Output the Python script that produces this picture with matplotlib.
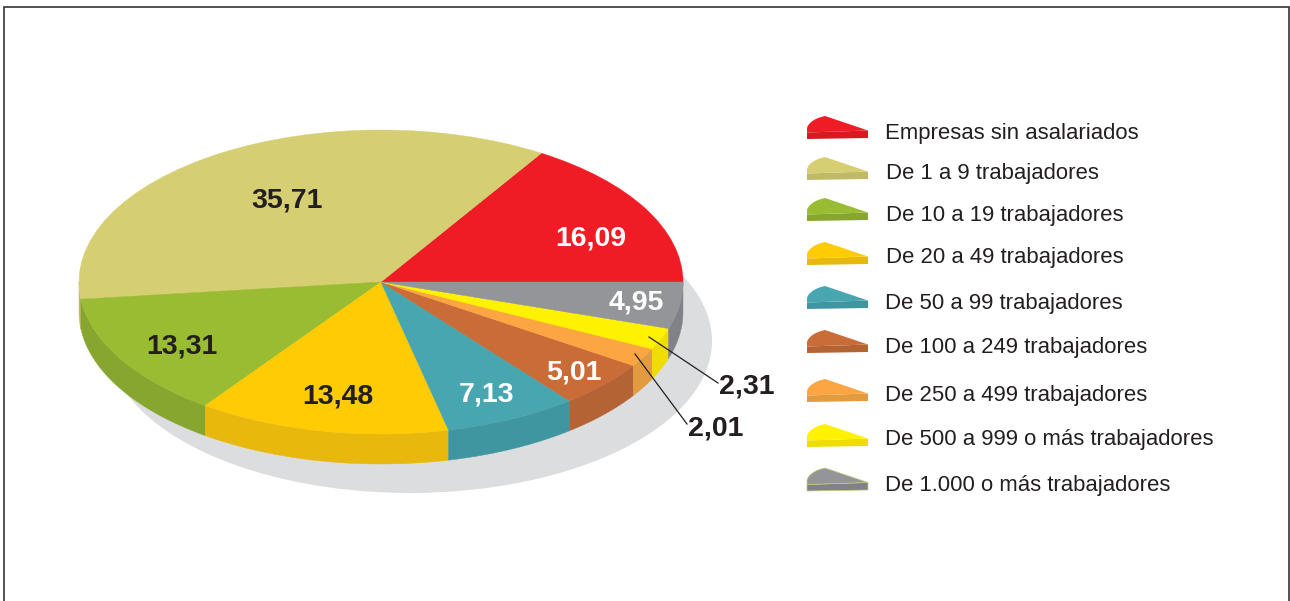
import numpy as np
import matplotlib
matplotlib.use("Agg")
import matplotlib.pyplot as plt
from matplotlib.patches import Wedge, Ellipse, Polygon
from matplotlib.transforms import Affine2D

plt.rcParams["font.family"] = ["Liberation Sans", "DejaVu Sans"]

categories = ["Empresas sin asalariados", "De 1 a 9 trabajadores", "De 10 a 19 trabajadores",
              "De 20 a 49 trabajadores", "De 50 a 99 trabajadores", "De 100 a 249 trabajadores",
              "De 250 a 499 trabajadores", "De 500 a 999 o más trabajadores", "De 1.000 o más trabajadores"]
values = [16.09, 35.71, 13.31, 13.48, 7.13, 5.01, 2.01, 2.31, 4.95]

top_colors = ["#EF1C25", "#D6CE72", "#99BC33", "#FFCB05", "#47A6B0", "#C96C38", "#FBA642", "#FFF200", "#939598"]
side_colors = ["#D71A22", "#C0B966", "#86A62F", "#E8B80D", "#3F96A0", "#B46334", "#E29B3E", "#EFDC00", "#808287"]

TEXT = "#231F20"
CX, CY, RX, RY, DEPTH = 381, 282, 302, 152, 30

fig = plt.figure(figsize=(12.9, 6.01), dpi=100, facecolor="white")
ax = fig.add_axes([0, 0, 1, 1])
ax.set_xlim(0, 1290)
ax.set_ylim(601, 0)
ax.axis("off")

# frame, open at the bottom
ax.plot([3.5, 3.5, 1288.5, 1288.5], [601, 6.5, 6.5, 601], color="#333333", lw=1.2, solid_joinstyle="miter")

# shadow under the pie
ax.add_patch(Ellipse((410, 341), 2 * RX, 2 * RY, color="#DCDDDF", lw=0, zorder=1))

# sides then faces, angles come from the values
edges = np.concatenate([[0], np.cumsum(values)]) * 360 / sum(values)
to_pie = Affine2D().scale(RX, -RY).translate(CX, CY) + ax.transData
for i in range(len(values)):
    a0, a1 = edges[i], edges[i + 1]
    # only the front half of the pie shows a side
    if a1 > 180:
        t = np.radians(np.linspace(max(a0, 180), a1, 60))
        x = CX + RX * np.cos(t)
        y = CY - RY * np.sin(t)
        pts = np.column_stack([np.r_[x, x[::-1]], np.r_[y, y[::-1] + DEPTH]])
        ax.add_patch(Polygon(pts, fc=side_colors[i], ec=side_colors[i], lw=0.3, zorder=2))
    ax.add_patch(Wedge((0, 0), 1, a0, a1, fc=top_colors[i], ec=top_colors[i], lw=0.3,
                       transform=to_pie, zorder=3))

# value labels, same order as values
label_xy = [(591, 238), (287, 200), (182, 346), (338, 396), (487, 394), (574, 372), (716, 428), (747, 386), (636, 302)]
label_colors = ["white", TEXT, TEXT, TEXT, "white", "white", TEXT, TEXT, "white"]
for i, v in enumerate(values):
    ax.text(label_xy[i][0], label_xy[i][1], f"{v:.2f}".replace(".", ","), color=label_colors[i],
            fontsize=20.5, fontweight="bold", ha="center", va="center", zorder=6)

# leader lines for the two thin slices
ax.plot([649, 718], [337, 383], color=TEXT, lw=0.9, zorder=5)
ax.plot([635, 687], [354, 424], color=TEXT, lw=0.9, zorder=5)

# legend: small slice shaped icons
icon_tops = [116, 157, 198, 242, 286, 330, 379, 424, 468]
text_ys = [133, 173, 215, 257, 303, 347, 395, 439, 485]
text_xs = [885, 886, 886, 886, 885, 885, 885, 885, 885]
icon_top = np.array([(0, 12), (1, 9.5), (3, 7), (6, 4.6), (9, 2.9), (13, 1.3), (18, 0), (61, 14.5), (0, 16.5)])
icon_front = np.array([(0, 16.5), (61, 14.5), (61, 22), (0, 23)])
for i, name in enumerate(categories):
    offset = np.array([807, icon_tops[i]])
    edge = "#C9C878" if i == len(categories) - 1 else "none"
    ax.add_patch(Polygon(icon_front + offset, fc=side_colors[i], ec=edge, lw=0.5, zorder=3))
    ax.add_patch(Polygon(icon_top + offset, fc=top_colors[i], ec=edge, lw=0.5, zorder=3))
    ax.text(text_xs[i], text_ys[i], name, color=TEXT, fontsize=15.95, ha="left", va="center")

fig.savefig("out.png", dpi=100, facecolor="white")
plt.close(fig)
